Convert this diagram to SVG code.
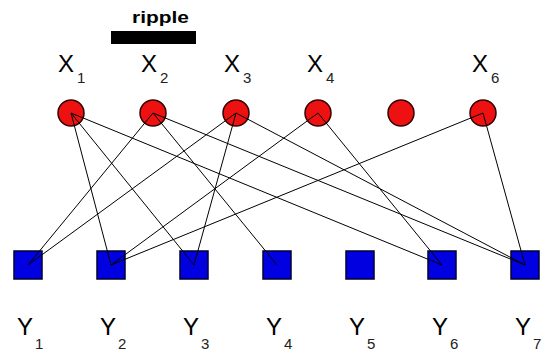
<svg xmlns="http://www.w3.org/2000/svg" width="545" height="360" viewBox="0 0 545 360">
<style>
.x{fill:#ee1111;stroke:#330000;stroke-width:1.5}
.y{fill:#0000e0;stroke:#000030;stroke-width:1.5}
.lbl{font-family:"Liberation Sans",Arial,sans-serif;font-size:24px;fill:#000}
.sub{font-family:"Liberation Sans",Arial,sans-serif;font-size:15px;fill:#222}
.e{stroke:#000;stroke-width:1;fill:none}
</style>
<rect width="545" height="360" fill="#fff"/>
<g id="ripple">
<text x="132" y="23" font-family="Liberation Sans,Arial,sans-serif" font-size="17" font-weight="bold" textLength="57" lengthAdjust="spacingAndGlyphs">ripple</text>
<rect x="111" y="31" width="85" height="13" fill="#000"/>
</g>
<g id="X1"><circle class="x" cx="71" cy="113" r="13"/><text class="lbl" x="58" y="72">X</text><text class="sub" x="77" y="83">1</text></g>
<g id="X2"><circle class="x" cx="153" cy="113" r="13"/><text class="lbl" x="141" y="72">X</text><text class="sub" x="160" y="83">2</text></g>
<g id="X3"><circle class="x" cx="236" cy="113" r="13"/><text class="lbl" x="224" y="72">X</text><text class="sub" x="243" y="83">3</text></g>
<g id="X4"><circle class="x" cx="318" cy="113" r="13"/><text class="lbl" x="307" y="72">X</text><text class="sub" x="326" y="83">4</text></g>
<g id="X5"><circle class="x" cx="401" cy="113" r="13"/></g>
<g id="X6"><circle class="x" cx="483" cy="113" r="13"/><text class="lbl" x="472" y="72">X</text><text class="sub" x="491" y="83">6</text></g>
<g id="Y1"><rect class="y" x="14" y="251" width="28" height="28"/><text class="lbl" x="17" y="335">Y</text><text class="sub" x="35" y="349">1</text></g>
<g id="Y2"><rect class="y" x="97" y="251" width="28" height="28"/><text class="lbl" x="100" y="335">Y</text><text class="sub" x="118" y="349">2</text></g>
<g id="Y3"><rect class="y" x="180" y="251" width="28" height="28"/><text class="lbl" x="183" y="335">Y</text><text class="sub" x="201" y="349">3</text></g>
<g id="Y4"><rect class="y" x="263" y="251" width="28" height="28"/><text class="lbl" x="266" y="335">Y</text><text class="sub" x="284" y="349">4</text></g>
<g id="Y5"><rect class="y" x="346" y="251" width="28" height="28"/><text class="lbl" x="349" y="335">Y</text><text class="sub" x="367" y="349">5</text></g>
<g id="Y6"><rect class="y" x="428" y="251" width="28" height="28"/><text class="lbl" x="432" y="335">Y</text><text class="sub" x="450" y="349">6</text></g>
<g id="Y7"><rect class="y" x="511" y="251" width="28" height="28"/><text class="lbl" x="515" y="335">Y</text><text class="sub" x="533" y="349">7</text></g>
<g id="connectors">
<line class="e" x1="71" y1="113" x2="111" y2="265"/>
<line class="e" x1="71" y1="113" x2="194" y2="265"/>
<line class="e" x1="71" y1="113" x2="442" y2="265"/>
<line class="e" x1="153" y1="113" x2="28" y2="265"/>
<line class="e" x1="153" y1="113" x2="277" y2="265"/>
<line class="e" x1="153" y1="113" x2="525" y2="265"/>
<line class="e" x1="236" y1="113" x2="28" y2="265"/>
<line class="e" x1="236" y1="113" x2="194" y2="265"/>
<line class="e" x1="236" y1="113" x2="525" y2="265"/>
<line class="e" x1="318" y1="113" x2="111" y2="265"/>
<line class="e" x1="318" y1="113" x2="442" y2="265"/>
<line class="e" x1="483" y1="113" x2="111" y2="265"/>
<line class="e" x1="483" y1="113" x2="525" y2="265"/>
</g>
</svg>
